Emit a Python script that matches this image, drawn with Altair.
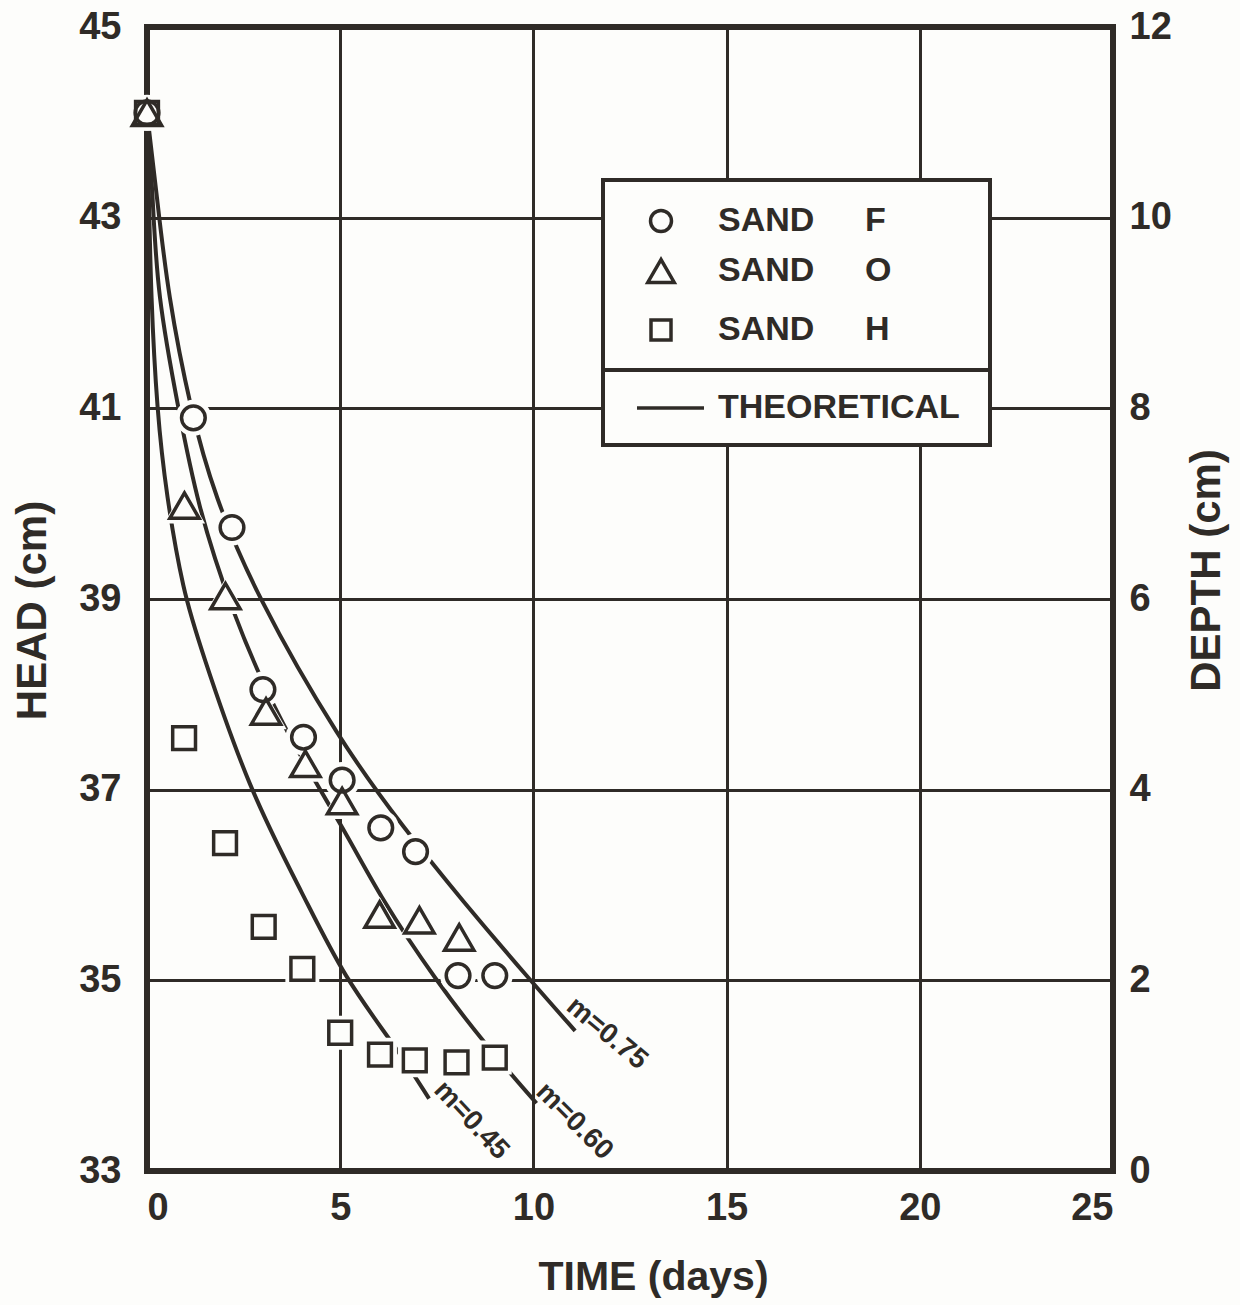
import altair as alt
import pandas as pd

INK = "#2f2b27"
PAPER = "#fdfdfb"
FONT = "Liberation Sans"

# Measured head (cm) against elapsed time (days) for the three sands
sand_f_days = [0, 1.2, 2.2, 3.0, 4.05, 5.05, 6.05, 6.95, 8.05, 9.0]
sand_f_head = [44.1, 40.9, 39.75, 38.05, 37.55, 37.1, 36.6, 36.35, 35.05, 35.05]
sand_o_days = [0, 0.97, 2.03, 3.08, 4.1, 5.05, 6.02, 7.05, 8.08]
sand_o_head = [44.1, 39.98, 39.03, 37.82, 37.27, 36.88, 35.69, 35.63, 35.45]
sand_h_days = [0, 0.96, 2.02, 3.02, 4.02, 5.0, 6.03, 6.93, 8.01, 9.0]
sand_h_head = [44.1, 37.54, 36.44, 35.56, 35.12, 34.45, 34.22, 34.16, 34.14, 34.19]

# Theoretical decline curves for three values of m
m075_days = [0, 0.25, 0.54, 1.14, 1.74, 2.81, 4.98, 6.68, 8.13, 9.92, 11.08]
m075_head = [44.1, 43.25, 42.19, 40.96, 40.09, 39.05, 37.51, 36.58, 35.85, 35.0, 34.47]
m060_days = [0, 0.15, 0.26, 0.83, 1.3, 2.16, 3.43, 5.13, 6.05, 7.51, 8.71, 10.08]
m060_head = [44.1, 43.25, 42.19, 40.96, 40.0, 38.9, 37.7, 36.57, 35.86, 34.98, 34.35, 33.71]
m045_days = [0, 0.05, 0.1, 0.26, 0.5, 0.94, 1.37, 2.63, 4.08, 5.1, 6.46, 7.3]
m045_head = [44.1, 43.25, 42.19, 40.96, 40.09, 39.07, 38.51, 37.0, 35.87, 35.03, 34.29, 33.76]

curve_names = ["m=0.75", "m=0.60", "m=0.45"]
curve_label_days = [11.9, 11.06, 8.39]
curve_label_head = [34.44, 33.52, 33.53]
curve_label_angle = [40, 45, 47]

x_ticks = [0, 5, 10, 15, 20, 25]
head_ticks = [33, 35, 37, 39, 41, 43, 45]
depth_ticks = [0, 2, 4, 6, 8, 10, 12]

sands = ["F", "O", "H"]
sand_shapes = ["circle", "triangle-up", "square"]
marker_size = {"circle": 560, "triangle-up": 860, "square": 520}
halo_size = {"circle": 1300, "triangle-up": 1700, "square": 1150}

series = {
    "F": pd.DataFrame({"days": sand_f_days, "head": sand_f_head}),
    "O": pd.DataFrame({"days": sand_o_days, "head": sand_o_head}),
    "H": pd.DataFrame({"days": sand_h_days, "head": sand_h_head}),
}

curves = pd.concat([
    pd.DataFrame({"days": d, "head": h, "m": n})
    for d, h, n in [(m075_days, m075_head, "m=0.75"),
                    (m060_days, m060_head, "m=0.60"),
                    (m045_days, m045_head, "m=0.45")]
], ignore_index=True)

labels = pd.DataFrame({"days": curve_label_days, "head": curve_label_head,
                       "name": curve_names})

W, H = 966, 1144

x_axis = alt.Axis(values=x_ticks, grid=True, gridColor=INK, gridWidth=3, gridOpacity=1,
                  domain=False, ticks=False, labelFont=FONT, labelFontWeight="bold",
                  labelFontSize=38, labelColor=INK, labelPadding=18,
                  title="TIME (days)", titleFont=FONT, titleFontWeight="bold",
                  titleFontSize=41, titleColor=INK, titleX=506, titleY=106,
                  titleBaseline="middle", titleAlign="center")
y_axis = alt.Axis(values=head_ticks, grid=True, gridColor=INK, gridWidth=3, gridOpacity=1,
                  domain=False, ticks=False, labelFont=FONT, labelFontWeight="bold",
                  labelFontSize=38, labelColor=INK, labelPadding=26,
                  title="HEAD (cm)", titleFont=FONT, titleFontWeight="bold",
                  titleFontSize=42, titleColor=INK, titleAngle=270, titleX=-115,
                  titleY=583, titleAlign="center", titleBaseline="middle")


def xe():
    return alt.X("days:Q", scale=alt.Scale(domain=[0, 25], nice=False, zero=False), axis=x_axis)


def ye():
    return alt.Y("head:Q", scale=alt.Scale(domain=[33, 45], nice=False, zero=False), axis=y_axis)


lines = alt.Chart(curves).mark_line(interpolate="basis", strokeWidth=4, color=INK).encode(
    x=xe(), y=ye(), detail="m:N")

# White knock-outs behind each marker break the curves and grid around it
halos = [
    alt.Chart(series[s]).mark_point(shape=shp, size=halo_size[shp], filled=True,
                                    fill=PAPER, opacity=1, strokeWidth=0).encode(x=xe(), y=ye())
    for s, shp in zip(sands, sand_shapes)
]
points = [
    alt.Chart(series[s]).mark_point(shape=shp, size=marker_size[shp], filled=False,
                                    stroke=INK, strokeWidth=3.5, opacity=1).encode(x=xe(), y=ye())
    for s, shp in zip(sands, sand_shapes)
]

curve_text = [
    alt.Chart(labels[labels["name"] == n]).mark_text(
        font=FONT, fontWeight="bold", fontSize=28, color=INK, angle=a,
        align="center", baseline="middle").encode(x=xe(), y=ye(), text="name:N")
    for n, a in zip(curve_names, curve_label_angle)
]

# Legend panel
one = alt.Data(values=[{}])
box = alt.Chart(one).mark_rect(fill=PAPER, stroke=INK, strokeWidth=4).encode(
    x=alt.value(456), x2=alt.value(843), y=alt.value(153), y2=alt.value(418))
sep = alt.Chart(one).mark_rule(color=INK, strokeWidth=4).encode(
    x=alt.value(456), x2=alt.value(843), y=alt.value(343))
row_y = [194, 244, 303]
legend_layers = [box, sep]
for sand, shape, ry in zip(sands, sand_shapes, row_y):
    size = {"circle": 440, "triangle-up": 700, "square": 400}[shape]
    legend_layers.append(alt.Chart(one).mark_point(
        shape=shape, size=size, filled=False, stroke=INK, strokeWidth=3.5, opacity=1).encode(
        x=alt.value(514), y=alt.value(ry)))
    legend_layers.append(alt.Chart(one).mark_text(
        text="SAND", font=FONT, fontWeight="bold", fontSize=34, color=INK,
        align="left", baseline="middle").encode(x=alt.value(571), y=alt.value(ry)))
    legend_layers.append(alt.Chart(one).mark_text(
        text=sand, font=FONT, fontWeight="bold", fontSize=34, color=INK,
        align="left", baseline="middle").encode(x=alt.value(718), y=alt.value(ry)))
legend_layers.append(alt.Chart(one).mark_rule(color=INK, strokeWidth=3.5).encode(
    x=alt.value(490), x2=alt.value(557), y=alt.value(381)))
legend_layers.append(alt.Chart(one).mark_text(
    text="THEORETICAL", font=FONT, fontWeight="bold", fontSize=34, color=INK,
    align="left", baseline="middle").encode(x=alt.value(571), y=alt.value(381)))

main = alt.layer(lines, *halos, *points, *curve_text, *legend_layers)

# Depth scale on the right-hand side (depth = head - 33)
depth = alt.Chart(pd.DataFrame({"depth": [0, 12]})).mark_point(opacity=0).encode(
    y=alt.Y("depth:Q", scale=alt.Scale(domain=[0, 12], nice=False),
            axis=alt.Axis(orient="right", values=depth_ticks, grid=False, domain=False,
                          ticks=False, labelFont=FONT, labelFontWeight="bold",
                          labelFontSize=38, labelColor=INK, labelPadding=16,
                          title="DEPTH (cm)", titleFont=FONT, titleFontWeight="bold",
                          titleFontSize=42, titleColor=INK, titleAngle=270, titleX=93,
                          titleY=543, titleAlign="center", titleBaseline="middle")))

chart = alt.layer(main, depth).resolve_scale(y="independent").properties(
    width=W, height=H,
    autosize=alt.AutoSizeParams(type="none"),
    padding={"left": 147, "top": 27, "right": 127, "bottom": 134},
).configure(background=PAPER).configure_view(stroke=INK, strokeWidth=6)

chart.save("out.html", embed_options={"renderer": "svg", "actions": False})
